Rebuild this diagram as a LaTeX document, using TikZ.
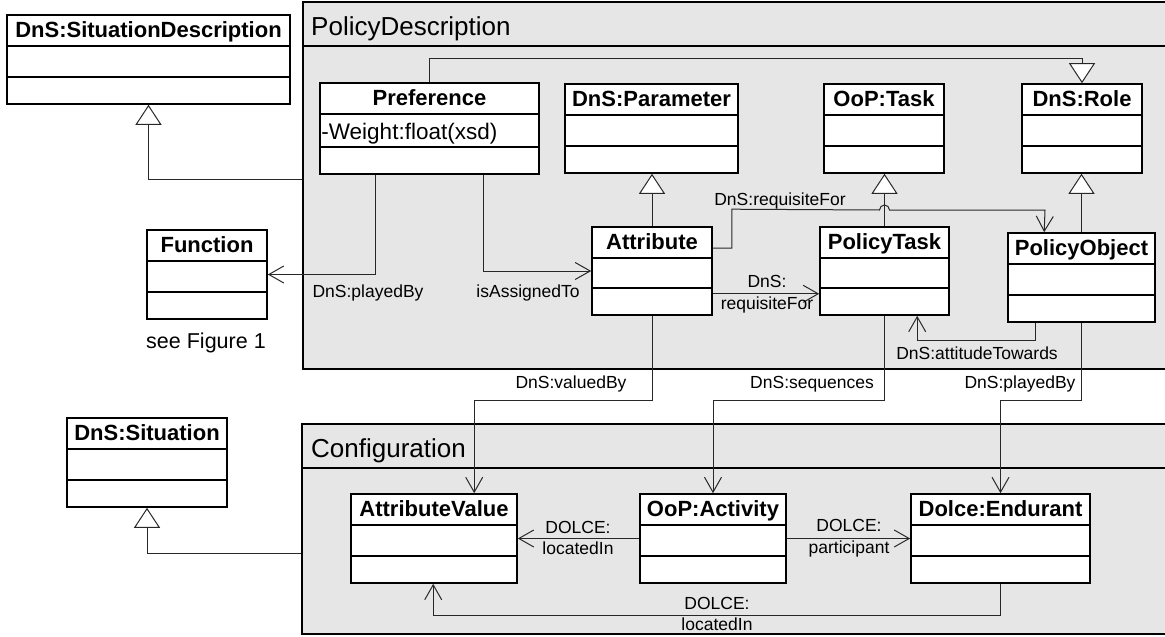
\documentclass[tikz,border=0pt]{standalone}
\usepackage{fontspec}
\setmainfont{Liberation Sans}
\usetikzlibrary{arrows.meta,calc,fit}

\definecolor{pkgfill}{RGB}{230,230,230}
\definecolor{wire}{RGB}{40,40,40}

% UML class: name, x1, y1, x2, y2, class name
\newcommand\umlclass[6]{%
  \node[clsbox, fit={(#2,#3) (#4,#5)}] (#1) {};
  \draw[clssep] ($(#1.north west)+(0,32)$) -- ($(#1.north east)+(0,32)$);
  \draw[clssep] ($(#1.south west)+(0,-28)$) -- ($(#1.south east)+(0,-28)$);
  \node[clsname] (#1-name) at ($(#1.north)+(0,23)$) {#6};
}

\begin{document}
\begin{tikzpicture}[x=1pt,y=-1pt,
  clsbox/.style={draw=black, line width=1.6pt, fill=white, inner sep=0pt},
  clssep/.style={line width=1.5pt},
  clsname/.style={anchor=base, inner sep=0pt, font=\fontsize{22}{26}\selectfont\bfseries},
  clsattr/.style={anchor=base west, inner sep=0pt, font=\fontsize{22.5}{26}\selectfont},
  pkgbox/.style={draw=black, line width=1.6pt, fill=pkgfill, inner sep=0pt},
  pkgtitle/.style={anchor=base west, inner sep=0pt, font=\fontsize{26}{30}\selectfont},
  assoc/.style={draw=wire, line width=1pt, -{Straight Barb[length=15pt,width=17pt]}},
  gen/.style={draw=wire, line width=1pt, -{Triangle[length=20pt,width=26pt,fill=white]}},
  lbl/.style={inner sep=0pt, font=\fontsize{17.5}{21}\selectfont},
  lbltwo/.style={inner sep=0pt, align=center, font=\fontsize{17.5}{21.5}\selectfont},
]
\useasboundingbox (0,0) rectangle (1165,637);
\clip (0,0) rectangle (1165,637);

% packages
\node[pkgbox, fit={(303,2) (1170,369)}] (pd) {};
\draw[clssep] ($(pd.north west)+(0,45)$) -- ($(pd.north east)+(0,45)$);
\node[pkgtitle] (pd-title) at (311,35) {PolicyDescription};

\node[pkgbox, fit={(302,424) (1170,634)}] (conf) {};
\draw[clssep] ($(conf.north west)+(0,45)$) -- ($(conf.north east)+(0,45)$);
\node[pkgtitle] (conf-title) at (311,457) {Configuration};

% classes
\umlclass{sitdesc}{7}{15}{290}{104}{DnS:SituationDescription}
\umlclass{pref}{320}{83}{539}{174}{Preference}
\node[clsattr] (pref-attr) at ($(pref.north west)+(2,57)$) {-Weight:float(xsd)};
\umlclass{param}{565}{84}{738}{173}{DnS:Parameter}
\umlclass{otask}{824}{84}{944}{173}{OoP:Task}
\umlclass{role}{1022}{84}{1142}{173}{DnS:Role}
\umlclass{func}{147}{230}{267}{319}{Function}
\node[inner sep=0pt, font=\fontsize{21.5}{25}\selectfont] (seefig) at (206,343) {see Figure 1};
\umlclass{attr}{592}{227}{712}{315}{Attribute}
\umlclass{ptask}{820}{227}{949}{315}{PolicyTask}
\umlclass{pobj}{1008}{233}{1155}{322}{PolicyObject}
\umlclass{sit}{67}{418}{227}{507}{DnS:Situation}
\umlclass{attrval}{351}{494}{517}{583}{AttributeValue}
\umlclass{act}{640}{494}{786}{583}{OoP:Activity}
\umlclass{endur}{911}{494}{1090}{583}{Dolce:Endurant}

% generalisations
\draw[gen] (pd.west |- 0,179) -| (sitdesc.south);
\draw[gen] (conf.west |- 0,553) -| (sit.south);
\draw[gen] (pref.north) -- ++(0,-24) -| (role.north);
\draw[gen] (attr.north) -- (attr.north |- param.south);
\draw[gen] (ptask.north) -- (ptask.north |- otask.south);
\draw[gen] (pobj.north) -- (pobj.north |- role.south);

% associations in PolicyDescription
\draw[assoc] ($(pref.south west)+(56,0)$) |- (func.east);
\node[lbl] (l-played1) at (368,293) {DnS:playedBy};
\draw[assoc] ($(pref.south west)+(164,0)$) |- (attr.west);
\node[lbl] (l-assigned) at (528,293) {isAssignedTo};

\draw[assoc] ($(attr.north east)+(0,22)$) -- ++(19,0) -- ++(0,-39)
  -- (879.5,210) arc[start angle=180, end angle=360, radius=5]
  -- (1045,210) -- ($(pobj.north west)+(37,0)$);
\node[lbl] (l-req1) at (780,201) {DnS:requisiteFor};

\draw[assoc] ($(attr.south east)+(0,-22)$) -- ($(ptask.south west)+(0,-22)$);
\node[lbltwo] (l-req2) at (767,294) {DnS:\\requisiteFor};

\draw[assoc] ($(pobj.south west)+(28,0)$) -- ++(0,18) -| ($(ptask.south west)+(98,0)$);
\node[lbl] (l-attitude) at (977,353) {DnS:attitudeTowards};

% associations into Configuration
\draw[assoc] (attr.south) -- ++(0,85) -| ($(attrval.north west)+(124,0)$);
\node[lbl] (l-valued) at (571,384) {DnS:valuedBy};
\draw[assoc] (ptask.south) -- ++(0,85) -| (act.north);
\node[lbl] (l-seq) at (812,384) {DnS:sequences};
\draw[assoc] (pobj.south) -- ++(0,78) -| (endur.north);
\node[lbl] (l-played2) at (1020,384) {DnS:playedBy};

% associations in Configuration
\draw[assoc] (act.west) -- (attrval.east);
\node[lbltwo] (l-loc1) at (578,538) {DOLCE:\\locatedIn};
\draw[assoc] (act.east) -- (endur.west);
\node[lbltwo] (l-part) at (849,538) {DOLCE:\\participant};
\draw[assoc] (endur.south) -- ++(0,32) -| ($(attrval.south west)+(83,0)$);
\node[lbltwo] (l-loc2) at (717,614) {DOLCE:\\locatedIn};
\end{tikzpicture}
\end{document}
